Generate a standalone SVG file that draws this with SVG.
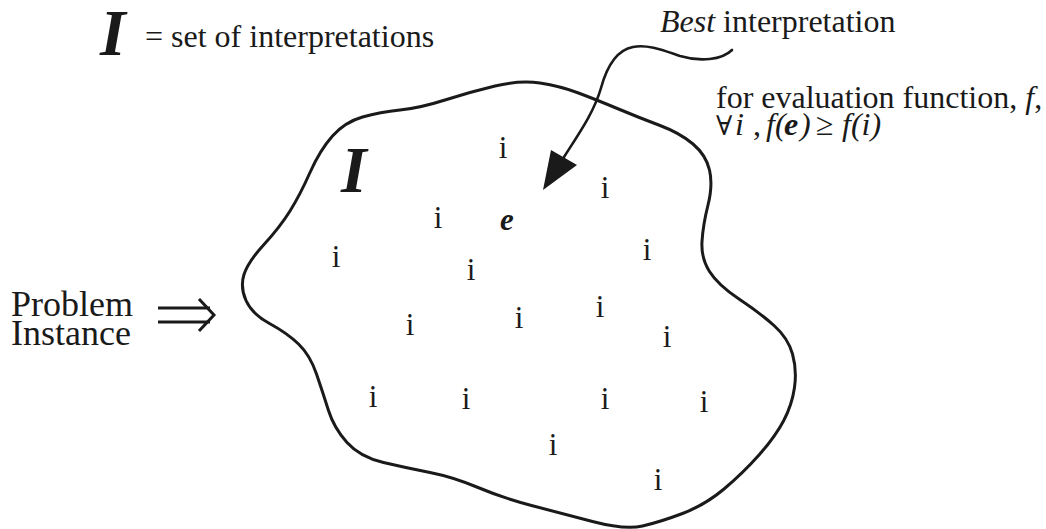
<svg xmlns="http://www.w3.org/2000/svg" width="1046" height="529" viewBox="0 0 1046 529">
  <style>
    .t { font-family: "Liberation Serif", "DejaVu Serif", serif; font-size: 32px; fill: #1a1a1a; }
    .it { font-style: italic; }
    .bi { font-style: italic; font-weight: bold; }
    .big { font-family: "Liberation Serif", serif; font-style: italic; font-weight: bold; font-size: 66px; fill: #1a1a1a; }
    .pt { font-family: "Liberation Serif", "DejaVu Serif", serif; font-size: 31px; fill: #1a1a1a; text-anchor: middle; }
    .sym { font-family: "DejaVu Serif", serif; font-size: 27px; }
    .line { fill: none; stroke: #1a1a1a; stroke-width: 3; stroke-linecap: round; stroke-linejoin: round; }
    .dbl { fill: none; stroke: #1a1a1a; stroke-width: 3; stroke-linecap: butt; stroke-linejoin: miter; }
  </style>

  <g id="legend">
    <text class="big" x="100" y="55">I</text>
    <text class="t" x="145" y="47">= set of interpretations</text>
  </g>

  <g id="set-I">
    <path class="line" d="M400,110 Q420,108 445,100 Q470,92 495,86 Q520,80 540,83 Q560,86 578.5,93 Q597,100 618.5,109 Q640,118 660,125.5 Q680,133 693,144 Q706,155 709.5,170 Q713,185 708,205 Q703,225 702,241.5 Q701,258 709.5,271.5 Q718,285 739,299 Q760,313 774,325.5 Q788,338 792.5,354 Q797,370 794.5,387.5 Q792,405 783.5,421 Q775,437 759,455 Q743,473 724,489 Q705,505 682.5,513.5 Q660,522 642.5,526 Q625,530 592.5,521.5 Q560,513 531.5,505.5 Q503,498 478,487.5 Q453,477 430,472.5 Q407,468 383.5,462.5 Q360,457 347,442.5 Q334,428 328.5,410.5 Q323,393 316.5,374 Q310,355 298.5,344 Q287,333 269.5,323.5 Q252,314 246,300.5 Q240,287 244,274.5 Q248,262 264,244.5 Q280,227 290,211 Q300,195 310,172.5 Q320,150 332.5,136 Q345,122 362.5,117 Q380,112 400,110 Z"/>
    <text class="big" x="341" y="192">I</text>
    <text class="pt bi" x="507" y="230">e</text>
    <text class="pt" x="503" y="158">i</text>
    <text class="pt" x="605" y="198">i</text>
    <text class="pt" x="438" y="228">i</text>
    <text class="pt" x="336" y="267">i</text>
    <text class="pt" x="471" y="280">i</text>
    <text class="pt" x="647" y="260">i</text>
    <text class="pt" x="410" y="335">i</text>
    <text class="pt" x="519" y="328">i</text>
    <text class="pt" x="600" y="317">i</text>
    <text class="pt" x="667" y="347">i</text>
    <text class="pt" x="373" y="407">i</text>
    <text class="pt" x="466" y="409">i</text>
    <text class="pt" x="605" y="409">i</text>
    <text class="pt" x="704" y="412">i</text>
    <text class="pt" x="553" y="455">i</text>
    <text class="pt" x="658" y="490">i</text>
  </g>

  <g id="problem-instance">
    <text class="t" x="11" y="316" style="font-size:36px">Problem</text>
    <text class="t" x="11" y="345" style="font-size:36px">Instance</text>
  </g>

  <g id="best-label">
    <text class="t" x="660" y="32"><tspan class="it">Best</tspan>  interpretation</text>
  </g>

  <g id="condition">
    <text class="t" x="716" y="108">for evaluation function, <tspan class="it">f</tspan>,</text>
    <text class="t" y="135"><tspan class="sym" x="716">∀</tspan><tspan class="it" x="735">i</tspan><tspan x="753">,</tspan><tspan class="it" x="766">f(</tspan><tspan class="bi" x="784">e</tspan><tspan class="it" x="800">)</tspan><tspan x="816">≥</tspan><tspan class="it" x="842">f(i)</tspan></text>
  </g>

  <g id="connectors">
    <path class="dbl" d="M158,308 H210 M158,322 H210"/>
    <path class="dbl" d="M199,299 L214,315 L199,331"/>
    <path class="line" style="stroke-width:2.6" d="M732,50 C722,60 700,62 680,56 C665,51 648,44 633,47 C617,50 607,66 601,88 C594,112 580,132 564,157"/>
    <polygon points="543,190 551,150 577,165" fill="#1a1a1a"/>
  </g>
</svg>
